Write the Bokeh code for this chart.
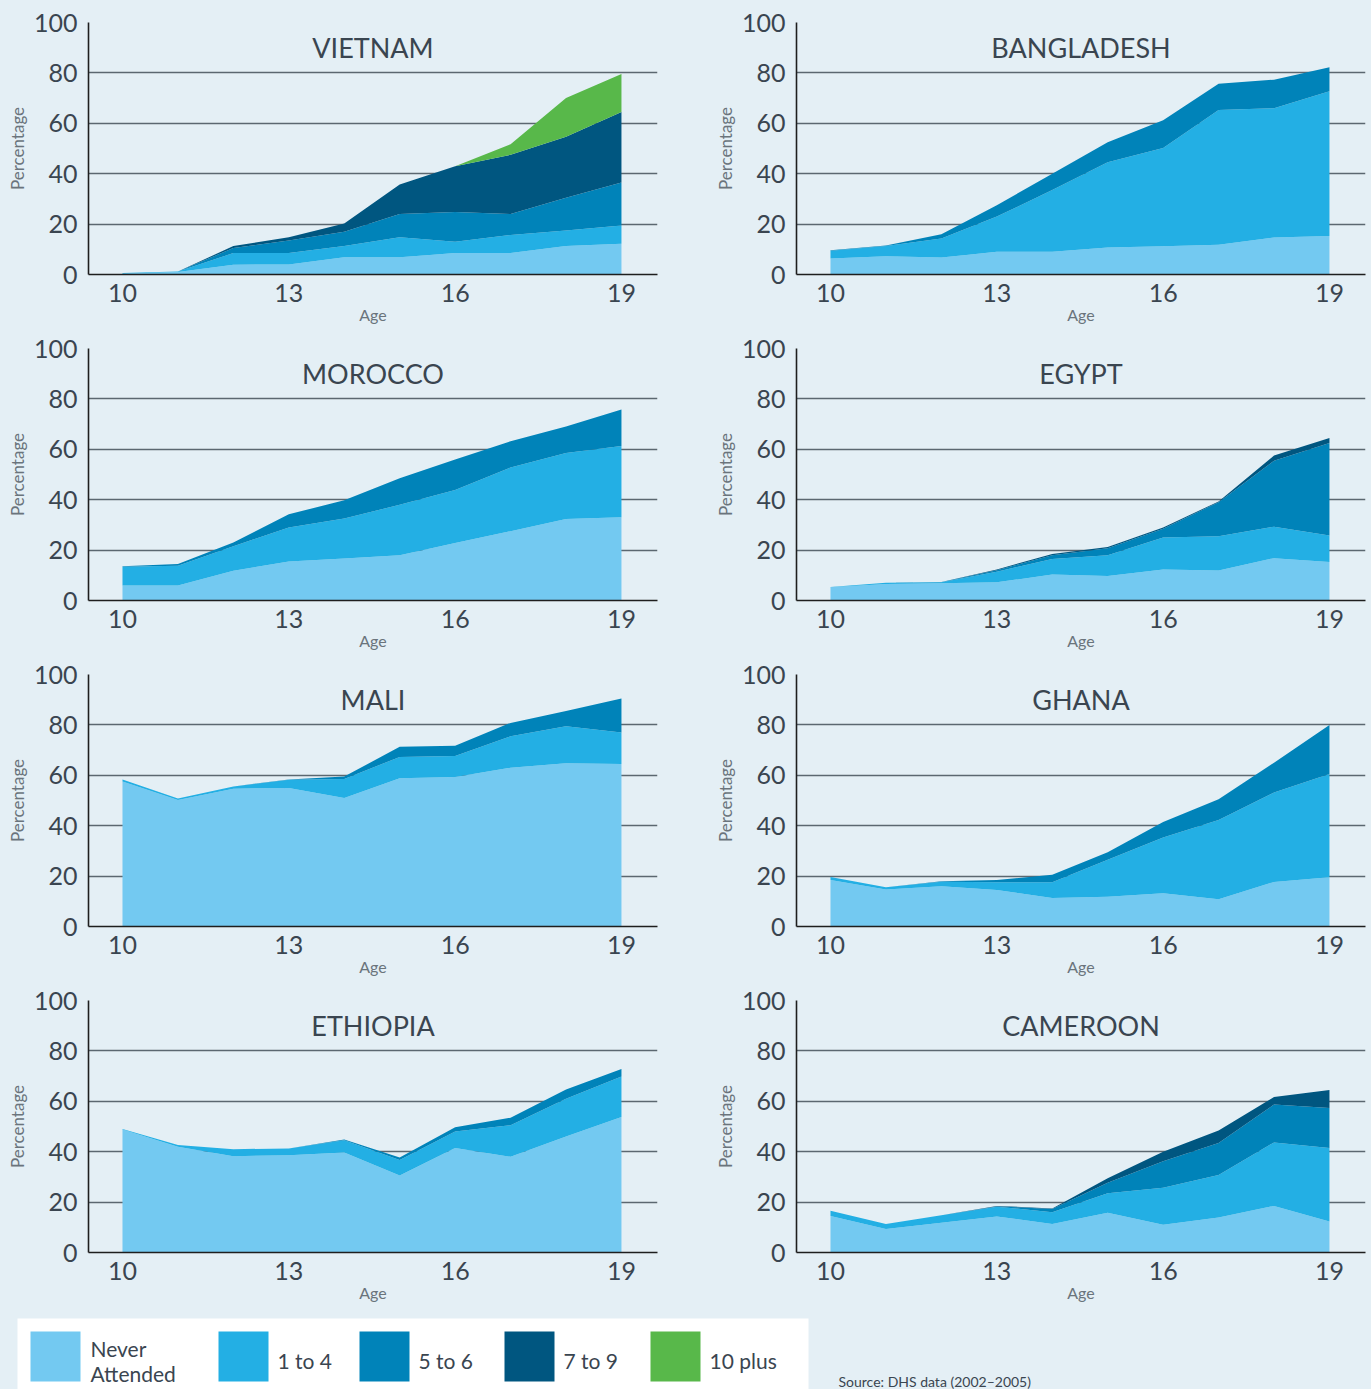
from bokeh.plotting import figure
from bokeh.layouts import column, row
from bokeh.models import ColumnDataSource, FixedTicker, Range1d, Label
from bokeh.embed import file_html
from bokeh.resources import INLINE
from bokeh.core.properties import value

# ---------------- data ----------------
ages = [10, 11, 12, 13, 14, 15, 16, 17, 18, 19]
x_ticks = [10, 13, 16, 19]
y_ticks = [0, 20, 40, 60, 80, 100]
categories = ["Never Attended", "1 to 4", "5 to 6", "7 to 9", "10 plus"]
keys = ["never", "g1_4", "g5_6", "g7_9", "g10"]
colors = ["#73c9f1", "#23afe4", "#0083b9", "#005680", "#58b84a"]

vietnam = dict(
    never=[0.3, 1.0, 3.9, 4.0, 6.8, 6.8, 8.5, 8.5, 11.3, 12.2],
    g1_4=[0.3, 0.2, 4.6, 4.5, 4.5, 8.0, 4.5, 7.2, 6.2, 7.2],
    g5_6=[0, 0, 2.0, 5.0, 5.7, 9.2, 11.8, 8.3, 13.0, 17.1],
    g7_9=[0, 0, 0.8, 1.3, 3.2, 11.7, 18.2, 23.5, 24.2, 28.0],
    g10=[0, 0, 0, 0, 0, 0, 0, 4.2, 15.3, 15.1],
)
bangladesh = dict(
    never=[6.3, 7.2, 6.7, 9.0, 9.0, 10.7, 11.2, 11.8, 14.7, 15.3],
    g1_4=[3.1, 4.1, 7.6, 14.0, 24.5, 33.8, 39.0, 53.5, 51.3, 57.4],
    g5_6=[0.2, 0.2, 1.7, 4.5, 6.5, 8.0, 11.0, 10.4, 11.3, 9.5],
    g7_9=[0] * 10,
    g10=[0] * 10,
)
morocco = dict(
    never=[6.0, 6.0, 11.8, 15.5, 16.7, 18.0, 22.8, 27.5, 32.3, 33.0],
    g1_4=[7.4, 7.8, 9.7, 13.5, 15.8, 20.0, 21.0, 25.3, 26.2, 28.3],
    g5_6=[0.2, 0.7, 1.5, 5.2, 7.3, 10.5, 12.2, 10.4, 10.5, 14.5],
    g7_9=[0] * 10,
    g10=[0] * 10,
)
egypt = dict(
    never=[5.3, 6.5, 6.8, 7.2, 10.3, 9.7, 12.3, 11.9, 16.8, 15.3],
    g1_4=[0.1, 0.5, 0.4, 4.2, 6.2, 8.3, 12.7, 13.6, 12.5, 10.5],
    g5_6=[0, 0, 0.1, 0.6, 1.5, 2.7, 3.5, 13.5, 26.2, 36.7],
    g7_9=[0, 0, 0, 0.3, 0.5, 0.5, 0.5, 0.3, 2.0, 2.0],
    g10=[0] * 10,
)
mali = dict(
    never=[57.5, 50.2, 54.7, 55.0, 51.0, 58.8, 59.3, 63.0, 64.8, 64.5],
    g1_4=[0.8, 0.6, 0.9, 3.2, 7.5, 8.5, 8.4, 12.5, 14.7, 12.5],
    g5_6=[0, 0, 0, 0.1, 1.0, 4.0, 4.0, 5.3, 6.0, 13.5],
    g7_9=[0] * 10,
    g10=[0] * 10,
)
ghana = dict(
    never=[18.5, 14.7, 16.0, 14.5, 11.3, 11.8, 13.2, 10.8, 17.7, 19.5],
    g1_4=[1.1, 0.9, 1.8, 3.1, 6.3, 14.7, 22.1, 31.5, 35.5, 41.0],
    g5_6=[0, 0, 0.2, 0.9, 2.9, 3.0, 6.2, 8.2, 11.8, 19.5],
    g7_9=[0] * 10,
    g10=[0] * 10,
)
ethiopia = dict(
    never=[48.8, 42.0, 38.2, 38.6, 39.7, 30.6, 41.5, 38.0, 46.0, 53.8],
    g1_4=[0.2, 0.7, 2.8, 2.7, 4.8, 6.1, 6.5, 12.5, 15.0, 16.0],
    g5_6=[0, 0, 0, 0, 0.3, 1.0, 1.7, 3.0, 3.7, 3.0],
    g7_9=[0] * 10,
    g10=[0] * 10,
)
cameroon = dict(
    never=[14.5, 9.3, 11.8, 14.3, 11.3, 15.8, 11.0, 13.9, 18.5, 12.3],
    g1_4=[2.1, 2.0, 3.0, 3.9, 4.7, 7.7, 14.7, 16.9, 25.2, 29.2],
    g5_6=[0, 0, 0, 0.1, 1.3, 4.2, 10.5, 12.7, 15.0, 15.8],
    g7_9=[0, 0, 0, 0.2, 0.2, 1.8, 3.8, 4.9, 3.0, 7.2],
    g10=[0] * 10,
)

countries = ["VIETNAM", "BANGLADESH", "MOROCCO", "EGYPT", "MALI", "GHANA", "ETHIOPIA", "CAMEROON"]
country_data = [vietnam, bangladesh, morocco, egypt, mali, ghana, ethiopia, cameroon]

# ---------------- style ----------------
BG = "#e4eff5"
TXT = "#3a4550"
LBL = "#6a747c"
GRID = "#5b6770"
FONT = "Lato"
X0, X1 = 9.387, 19.65
LEFT_W, RIGHT_W, ROW_H = 686, 685, 326


def make_panel(name, data, left_col):
    p = figure(width=LEFT_W if left_col else RIGHT_W, height=ROW_H,
               x_range=Range1d(X0, X1), y_range=Range1d(0, 100),
               output_backend="svg", toolbar_location=None,
               min_border_left=88 if left_col else 110,
               min_border_right=29 if left_col else 6,
               min_border_top=22, min_border_bottom=50,
               background_fill_color=BG, border_fill_color=BG,
               outline_line_color=None, styles={"background-color": BG})
    src = dict(age=ages)
    for k in keys:
        src[k] = data[k]
    source = ColumnDataSource(src)
    p.varea_stack(stackers=keys, x="age", color=colors, source=source)

    p.xaxis.ticker = FixedTicker(ticks=x_ticks)
    p.yaxis.ticker = FixedTicker(ticks=y_ticks)
    p.xgrid.visible = False
    p.ygrid.grid_line_color = GRID
    p.ygrid.grid_line_width = 1.5
    for ax in (p.xaxis[0], p.yaxis[0]):
        ax.major_tick_in = 0
        ax.major_tick_out = 0
        ax.minor_tick_in = 0
        ax.minor_tick_out = 0
        ax.axis_line_color = "#1e1e1e"
        ax.axis_line_width = 1.6
        ax.major_label_text_font = FONT
        ax.major_label_text_font_size = "25px"
        ax.major_label_text_color = TXT
        ax.axis_label_text_font = FONT
        ax.axis_label_text_font_style = "normal"
        ax.axis_label_text_color = LBL
    p.xaxis.axis_label_text_font_size = "16px"
    p.yaxis.axis_label_text_font_size = "17px"
    p.xaxis.axis_label = "Age"
    p.yaxis.axis_label = "Percentage"
    p.xaxis.major_label_standoff = 9
    p.xaxis.axis_label_standoff = 0
    p.yaxis.major_label_standoff = 11
    p.yaxis.axis_label_standoff = 3

    p.add_layout(Label(x=(X0 + X1) / 2, y=90.2, text=name,
                       text_align="center", text_baseline="middle",
                       text_font=FONT, text_font_size="27px", text_color=TXT))
    return p


panels = [make_panel(n, d, i % 2 == 0) for i, (n, d) in enumerate(zip(countries, country_data))]

# ---------------- legend strip ----------------
LW, LH = LEFT_W + RIGHT_W, 85
leg = figure(width=LW, height=LH, x_range=Range1d(0, LW), y_range=Range1d(LH, 0),
             output_backend="svg", toolbar_location=None,
             min_border=0, min_border_left=0, min_border_right=0,
             min_border_top=0, min_border_bottom=0,
             background_fill_color=BG, border_fill_color=BG, outline_line_color=None,
             styles={"background-color": BG})
leg.axis.visible = False
leg.grid.visible = False

leg.quad(left=[17], right=[808], top=[14], bottom=[LH + 5], color="white", line_color=None)

swatch_x = [30, 218, 359, 504, 650]
sw_src = ColumnDataSource(dict(left=swatch_x, right=[s + 50 for s in swatch_x],
                               top=[27] * 5, bottom=[77] * 5, color=colors))
leg.quad(left="left", right="right", top="top", bottom="bottom", color="color",
         line_color=None, source=sw_src)

lab_x = [swatch_x[0] + 60, swatch_x[0] + 60] + [s + 59 for s in swatch_x[1:]]
lab_y = [44, 69, 56, 56, 56, 56]
lab_t = ["Never", "Attended"] + categories[1:]
leg.text(x=lab_x, y=lab_y, text=lab_t, text_font=value(FONT), text_font_size="21px",
         text_color=TXT, text_baseline="middle", text_align="left")

leg.text(x=[838], y=[77], text=["Source: DHS data (2002\u20132005)"], text_font=value(FONT),
         text_font_size="14px", text_color=TXT, text_baseline="middle", text_align="left")

rows = [row(panels[i], panels[i + 1], styles={"background-color": BG}) for i in (0, 2, 4, 6)]
layout = column(*rows, leg, styles={"background-color": BG})

open("out.html", "w").write(file_html(layout, INLINE))
